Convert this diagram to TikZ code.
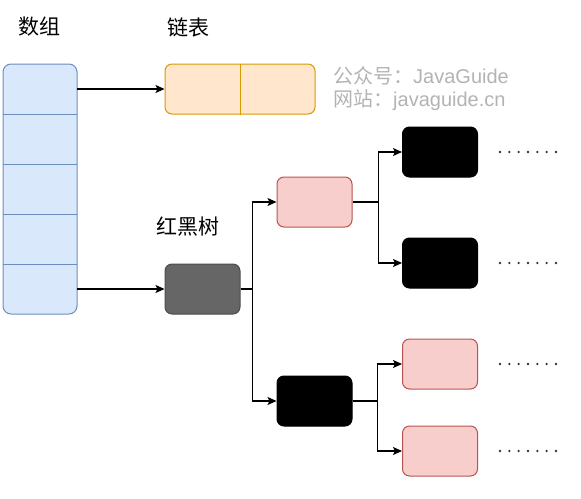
\documentclass[tikz,border=0pt]{standalone}
\usepackage{fontspec}
\usepackage{xcolor}
\usepackage{tikz}
\setmainfont{Liberation Sans}
\newfontfamily\cjk{Noto Sans CJK SC}
\usetikzlibrary{arrows.meta, positioning, fit, backgrounds, calc}

\definecolor{arrfill}{HTML}{DAE8FC}
\definecolor{arrdraw}{HTML}{6C8EBF}
\definecolor{listfill}{HTML}{FFE6CC}
\definecolor{listdraw}{HTML}{D79B00}
\definecolor{redfill}{HTML}{F8CECC}
\definecolor{reddraw}{HTML}{B85450}
\definecolor{rootfill}{HTML}{666666}
\definecolor{markgray}{HTML}{B3B3B3}

\begin{document}
\begin{tikzpicture}[x=1pt, y=-1pt]

\tikzset{
  cell/.style={rectangle, minimum width=74pt, minimum height=50pt,
    inner sep=0pt, outer sep=0pt},
  arrframe/.style={rectangle, draw=arrdraw, line width=1pt, fill=arrfill,
    rounded corners=8pt, inner sep=0pt},
  listbox/.style={rectangle, draw=listdraw, line width=1pt, fill=listfill,
    rounded corners=7pt, minimum width=150pt, minimum height=50pt, inner sep=0pt},
  treebox/.style={rectangle, line width=1pt, rounded corners=7pt,
    minimum width=75pt, minimum height=50pt, inner sep=0pt},
  rednode/.style={treebox, draw=reddraw, fill=redfill},
  blacknode/.style={treebox, draw=black, fill=black},
  rootnode/.style={treebox, draw=rootfill!75!black, fill=rootfill},
  title/.style={font=\cjk\fontsize{21}{25}\selectfont, text=black, inner sep=0pt},
  sitemark/.style={font=\fontsize{20}{24}\selectfont, text=markgray,
    inner sep=0pt, anchor=west},
  arrow/.style={-{Stealth[length=9pt, width=8pt, inset=2pt]}, line width=1.2pt, black},
  dotrow/.style={line width=2.6pt, line cap=round, black!80,
    dash pattern=on 0pt off 9.33pt}
}

\useasboundingbox (0,0) rectangle (581,498);

\node[cell] (a1) at (40,89) {};
\node[cell, below=0pt of a1] (a2) {};
\node[cell, below=0pt of a2] (a3) {};
\node[cell, below=0pt of a3] (a4) {};
\node[cell, below=0pt of a4] (a5) {};
\begin{scope}[on background layer]
  \node[arrframe, fit=(a1)(a5)] (arr) {};
\end{scope}
\foreach \i in {1,...,4}
  \draw[arrdraw, line width=1pt] (a\i.south west) -- (a\i.south east);

\node[listbox] (list) at (240,89) {};
\draw[listdraw, line width=1pt] (list.north) -- (list.south);

\node[rootnode] (root) at (202.5,289) {};
\node[rednode] (r1) at (314.5,202) {};
\node[blacknode] (b1) at (314.5,401) {};
\node[blacknode] (b11) at (440,152) {};
\node[blacknode] (b12) at (440,263) {};
\node[rednode] (r21) at (440,364) {};
\node[rednode] (r22) at (440,451) {};

\node[title] (arrtitle) at (40,27) {数组};
\node[title, anchor=west] (listtitle) at (167,27) {链表};
\node[title, anchor=west] (treetitle) at (156,227) {红黑树};

\node[sitemark] (site1) at (333,76) {{\cjk 公众号：}JavaGuide};
\node[sitemark] (site2) at (333,100) {{\cjk 网站：}javaguide.cn};

\draw[arrow] (a1.east) -- (list.west);
\draw[arrow] (a5.east) -- (root.west);
\draw[arrow] (root.east) -- ++(12,0) |- (r1.west);
\draw[arrow] (root.east) -- ++(12,0) |- (b1.west);
\draw[arrow] (r1.east) -- ++(26,0) |- (b11.west);
\draw[arrow] (r1.east) -- ++(26,0) |- (b12.west);
\draw[arrow] (b1.east) -- ++(25,0) |- (r21.west);
\draw[arrow] (b1.east) -- ++(25,0) |- (r22.west);

\foreach \n in {b11,b12,r21,r22}
  \draw[dotrow] ([xshift=22pt]\n.east) -- ++(57,0);

\end{tikzpicture}
\end{document}
